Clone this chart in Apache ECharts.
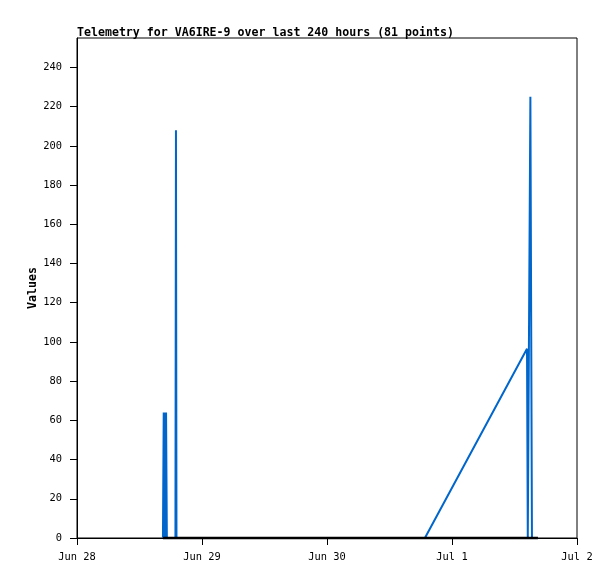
<!DOCTYPE html>
<html>
<head>
<meta charset="utf-8">
<script src="https://cdn.jsdelivr.net/npm/echarts@6/dist/echarts.min.js"></script>
<style>html,body{margin:0;padding:0;background:#fff;}#c{width:615px;height:579px;}</style>
</head>
<body>
<div id="c"></div>
<script>
// hours since Jun 28 00:00
var blueHours = [16.5, 16.6, 16.65, 16.75, 16.8, 16.9, 16.95, 17.05, 17.1, 17.2, 17.25, 18.0, 18.9, 19.0, 19.1,
  20, 21, 22, 23, 24, 25, 26, 27, 28, 29, 30, 31, 32, 33, 34, 35, 36, 37, 38, 39, 40, 41, 42, 43,
  44, 45, 46, 47, 48, 49, 50, 51, 52, 53, 54, 55, 56, 57, 58, 59, 60, 61, 62, 63, 64, 65, 66,
  66.8, 86.4, 86.55, 86.9, 87.05, 87.2, 87.35, 88.0, 88.5];
var blueValues = [0, 0, 64, 0, 64, 0, 64, 0, 64, 64, 0, 0, 0, 208, 0,
  0, 0, 0, 0, 0, 0, 0, 0, 0, 0, 0, 0, 0, 0, 0, 0, 0, 0, 0, 0, 0, 0, 0, 0,
  0, 0, 0, 0, 0, 0, 0, 0, 0, 0, 0, 0, 0, 0, 0, 0, 0, 0, 0, 0, 0, 0, 0,
  0, 96.5, 0, 0, 225, 112, 0, 0, 0];
var baseHours = [16.5, 88.5];
var baseValues = [0, 0];
var xTickHours = [0, 24, 48, 72, 96];
var xTickLabels = ['Jun 28', 'Jun 29', 'Jun 30', 'Jul 1', 'Jul 2'];
var yTickValues = [0, 20, 40, 60, 80, 100, 120, 140, 160, 180, 200, 220, 240];
var titleText = 'Telemetry for VA6IRE-9 over last 240 hours (81 points)';

function zip(a, b) { return a.map(function (v, i) { return [v, b[i]]; }); }

var chart = echarts.init(document.getElementById('c'), null, {renderer: 'canvas'});
var mono = 'DejaVu Sans Mono';
chart.setOption({
  animation: false,
  backgroundColor: '#fff',
  title: {
    text: titleText, left: 77, top: 27, padding: 0,
    textStyle: {fontFamily: mono, fontSize: 11.6, fontWeight: 'bold', color: '#000'}
  },
  grid: {left: 77, right: 38, top: 38, bottom: 41, show: true, borderColor: '#000', borderWidth: 1, containLabel: false},
  xAxis: {
    type: 'value', min: 0, max: 96, interval: 24,
    axisLine: {show: true, onZero: false, lineStyle: {color: '#000', width: 1}},
    axisTick: {show: true, length: 7, lineStyle: {color: '#000'}, customValues: xTickHours},
    axisLabel: {
      customValues: xTickHours, margin: 14, color: '#000', fontFamily: mono, fontSize: 10.4,
      formatter: function (v) { return xTickLabels[xTickHours.indexOf(v)] || ''; }
    },
    splitLine: {show: false}
  },
  yAxis: {
    type: 'value', min: 0, max: 255, interval: 20,
    name: 'Values', nameLocation: 'middle', nameRotate: 90, nameGap: 38, nameMoveOverlap: false,
    nameTextStyle: {fontFamily: mono, fontSize: 11.6, fontWeight: 'bold', color: '#000'},
    axisLine: {show: true, lineStyle: {color: '#000', width: 1}},
    axisTick: {show: true, length: 7, lineStyle: {color: '#000'}, customValues: yTickValues},
    axisLabel: {customValues: yTickValues, margin: 15, color: '#000', fontFamily: mono, fontSize: 10.4},
    splitLine: {show: false}
  },
  series: [
    {
      type: 'line', data: zip(blueHours, blueValues), showSymbol: false, symbol: 'none', clip: false,
      lineStyle: {color: '#0066cc', width: 2}, z: 2
    },
    {
      type: 'line', data: zip(baseHours, baseValues), showSymbol: false, symbol: 'none', clip: false,
      lineStyle: {color: '#000', width: 2.5}, z: 3
    }
  ]
});
</script>
</body>
</html>
